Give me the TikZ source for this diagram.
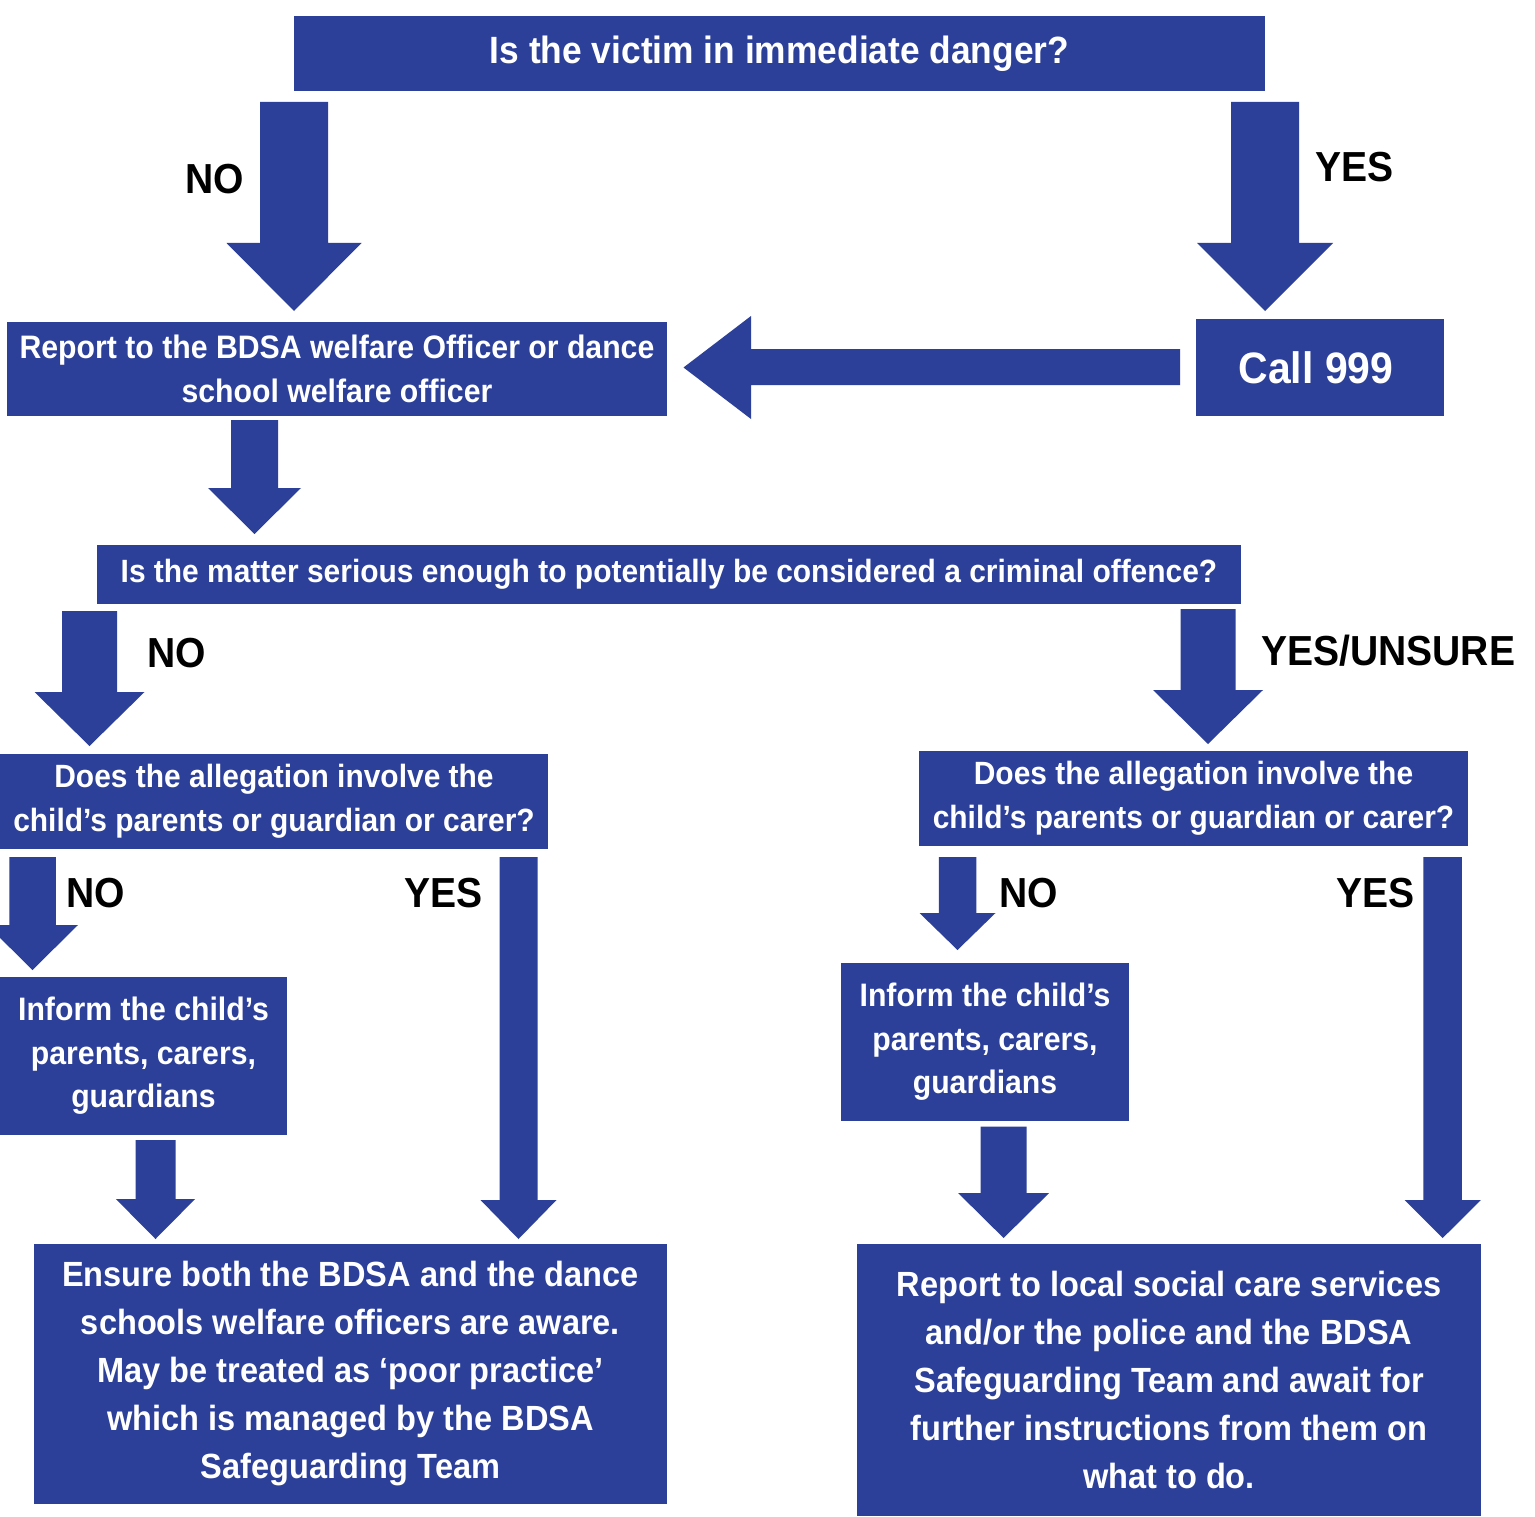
\documentclass[tikz,border=0pt]{standalone}
\usepackage{fontspec}
\newfontfamily\rb{Liberation Sans Bold}[FakeStretch=0.93]
\definecolor{bdsa}{RGB}{44,63,153}
\newcommand\blkdown[6]{%
  \fill[arr] ({#1-#5},#2) -- ({#1+#5},#2) -- ({#1+#5},#3) -- ({#1+#6},#3)
    -- (#1,#4) -- ({#1-#6},#3) -- ({#1-#5},#3) -- cycle;}
\tikzset{
  box/.style={fill=bdsa, text=white, inner sep=0pt, align=center},
  arr/.style={fill=bdsa},
  lbl/.style={text=black, inner sep=0pt, anchor=base west, font={\rb\fontsize{42}{42}\selectfont}},
  ftop/.style={font={\rb\fontsize{38}{44}\selectfont}},
  fmid/.style={font={\rb\fontsize{32.5}{43.5}\selectfont}},
  fcall/.style={font={\rb\fontsize{44}{48}\selectfont}},
  fq/.style={font={\rb\fontsize{32.2}{44}\selectfont}},
  fbig/.style={font={\rb\fontsize{35}{48}\selectfont}},
}
\begin{document}
\begin{tikzpicture}[x=1pt,y=-1pt]
\useasboundingbox (0,0) rectangle (1535,1517);
\fill[white] (0,0) rectangle (1535,1517);
\clip (0,0) rectangle (1535,1517);

% boxes
\node[box, ftop, minimum width=971pt, minimum height=75pt] (q1) at (779.5,53.5) {Is the victim in immediate danger?};
\node[box, fmid, minimum width=660pt, minimum height=94pt] (rep) at (337,369) {Report to the BDSA welfare Officer or dance\\school welfare officer};
\fill[bdsa] (1196,319) rectangle (1444,416);
\node[box, fcall, fill=none] (call) at (1316,367.5) {Call 999};
\node[box, fq, minimum width=1144pt, minimum height=59pt] (q2) at (669,574.5) {Is the matter serious enough to potentially be considered a criminal offence?};
\node[box, fq, minimum width=548pt, minimum height=95pt] (q3l) at (274,801.5) {Does the allegation involve the\\child’s parents or guardian or carer?};
\node[box, fq, minimum width=549pt, minimum height=95pt] (q3r) at (1193.5,798.5) {Does the allegation involve the\\child’s parents or guardian or carer?};
\node[box, fmid, minimum width=287pt, minimum height=158pt] (infl) at (143.5,1056) {Inform the child’s\\parents, carers,\\guardians};
\node[box, fmid, minimum width=288pt, minimum height=158pt] (infr) at (985,1042) {Inform the child’s\\parents, carers,\\guardians};
\node[box, fbig, minimum width=633pt, minimum height=260pt] (ens) at (350.5,1374) {Ensure both the BDSA and the dance\\schools welfare officers are aware.\\May be treated as ‘poor practice’\\which is managed by the BDSA\\Safeguarding Team};
\node[box, fbig, minimum width=624pt, minimum height=272pt] (soc) at (1169,1380) {Report to local social care services\\and/or the police and the BDSA\\Safeguarding Team and await for\\further instructions from them on\\what to do.};

% arrows
\blkdown{294}{102}{243}{311}{34}{67.5}
\blkdown{1265}{102}{243}{311}{34}{68}
\fill[arr] (1180,349) -- (751,349) -- (751,316) -- (683.5,367.5) -- (751,419) -- (751,385) -- (1180,385) -- cycle;
\blkdown{254.5}{420}{488}{534}{23.5}{46.5}
\blkdown{89.5}{611}{692}{746}{27.5}{55}
\blkdown{1208}{609}{690}{744}{27.5}{55}
\blkdown{32.5}{857}{925}{970}{23.25}{45.5}
\blkdown{518.5}{857}{1200}{1239}{19}{38}
\blkdown{155.5}{1140}{1199}{1239}{20}{39.6}
\blkdown{957.5}{857}{913}{950}{18.75}{38}
\blkdown{1442.7}{857}{1200}{1238}{19.25}{38.2}
\blkdown{1003.6}{1126.5}{1193}{1238}{23}{45.5}

% labels
\node[lbl] (l1) at (185,194) {NO};
\node[lbl] (l2) at (1315,182) {YES};
\node[lbl] (l3) at (147,667) {NO};
\node[lbl] (l4) at (1261,665) {YES/UNSURE};
\node[lbl] (l5) at (66,907) {NO};
\node[lbl] (l6) at (404,907) {YES};
\node[lbl] (l7) at (999,907) {NO};
\node[lbl] (l8) at (1336,907) {YES};
\end{tikzpicture}
\end{document}
